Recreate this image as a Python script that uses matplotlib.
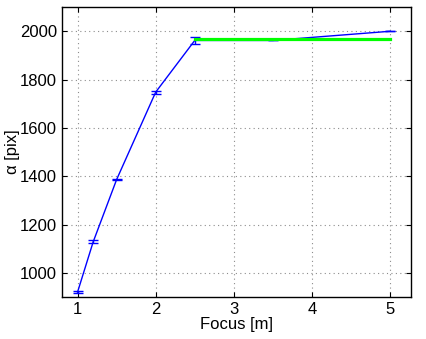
import numpy as np
import matplotlib
matplotlib.use("Agg")
import matplotlib.pyplot as plt

plt.rcParams['font.family'] = ['Liberation Sans', 'DejaVu Sans']

# measured calibration values
focus     = [1.0, 1.2, 1.5, 2.0, 2.5, 3.5, 5.0]
alpha_pix = [920, 1128, 1386, 1748, 1962, 1962, 2000]
alpha_err = [4, 6, 3, 6, 14, 0, 0]

# constant fit for the far range
fit_focus = [2.5, 5.0]
fit_alpha = [1967, 1967]

x_ticks = [1, 2, 3, 4, 5]
y_ticks = [1000, 1200, 1400, 1600, 1800, 2000]

fig = plt.figure(figsize=(4.27, 3.39), dpi=100)
ax = fig.add_axes([0.145, 0.124, 0.818, 0.855])

ax.errorbar(focus, alpha_pix, yerr=alpha_err, color='#0000ff', lw=1.0,
            capsize=3.5, elinewidth=1.0, capthick=1.0, zorder=2)
ax.plot(fit_focus, fit_alpha, color='#00ff00', lw=2.3, zorder=3)

ax.set_xlim(0.8, 5.27)
ax.set_ylim(900, 2100)
ax.set_xticks(x_ticks)
ax.set_yticks(y_ticks)
ax.tick_params(direction='in', top=True, right=True, labelsize=12, length=3.5)
ax.grid(True, linestyle=(0, (1, 3)), color='0.55', lw=0.8)
for s in ax.spines.values():
    s.set_linewidth(1.0)

ax.set_xlabel("Focus [m]", fontsize=12, labelpad=0)
ax.set_ylabel("α [pix]", fontsize=12, labelpad=0)

plt.savefig("out.png", dpi=100)
